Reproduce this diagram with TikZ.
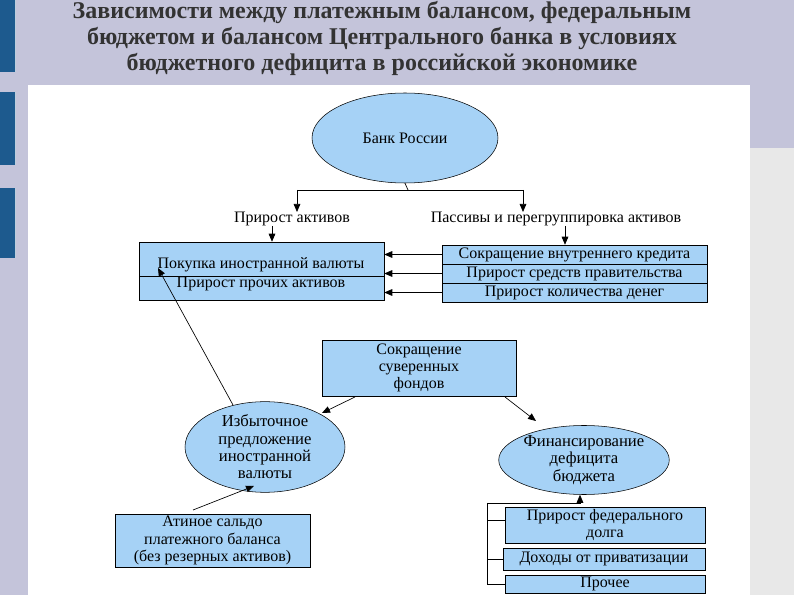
\documentclass[tikz,border=0pt]{standalone}
\usepackage{fontspec}
\setmainfont{Liberation Serif}
\usetikzlibrary{shapes.geometric,arrows.meta}
\definecolor{bg}{HTML}{C4C4DA}
\definecolor{bl}{HTML}{A6D2F6}
\definecolor{bar}{HTML}{1D5A8E}
\begin{document}
\begin{tikzpicture}[x=0.75pt,y=-0.75pt,
  box/.style={draw=black,fill=bl,inner sep=0pt,align=center,font=\fontsize{12}{13}\selectfont},
  ell/.style={ellipse,draw=black,fill=bl,inner sep=0pt,align=center,font=\fontsize{12}{13}\selectfont},
  lab/.style={inner sep=0pt,font=\fontsize{12}{13}\selectfont},
  arr/.style={-{Triangle[length=6pt,width=5pt]},line width=0.5pt},
  ln/.style={line width=0.5pt}]
\useasboundingbox (0,0) rectangle (794,595);
\fill[bg] (0,0) rectangle (794,595);
\fill[gray!18] (750,148) rectangle (794,595);
\fill[white] (28,85) rectangle (750,595);
\foreach \a/\b in {0/72,92/165,188/258}{\fill[bar] (0,\a) rectangle (15,\b); \draw[white!70!bar] (15,\a) -- (15,\b);}
\node[font=\bfseries\fontsize{18}{19.5}\selectfont,text=black!80,align=center] (title) at (382,38)
 {Зависимости между платежным балансом, федеральным\\бюджетом и балансом Центрального банка в условиях\\бюджетного дефицита в российской экономике};
% top
\node[ell,minimum width={186*0.75pt},minimum height={90*0.75pt}] (bank) at (405,138) {Банк России};
\coordinate (j) at (408,190);
\coordinate (jl) at (297,190);
\coordinate (jr) at (523,190);
\node[lab] (la) at (292,219) {Прирост активов};
\node[lab] (lp) at (556,219) {Пассивы и перегруппировка активов};
\draw[ln] (bank.south) -- (j);
\draw[ln] (jl) -- (jr);
\draw[arr] (jl) -- (297,212);
\draw[arr] (jr) -- (523,212);
\node[box,minimum width={245*0.75pt},minimum height={58*0.75pt}] (L) at (261.5,271) {};
\draw[ln] (139,276) -- (384,276);
\node[lab] (l1) at (261,265) {Покупка иностранной валюты};
\node[lab] (l2) at (261,284) {Прирост прочих активов};
\node[box,minimum width={265*0.75pt},minimum height={19*0.75pt}] (r1) at (574.5,254.5) {Сокращение внутреннего кредита};
\node[box,minimum width={265*0.75pt},minimum height={19*0.75pt}] (r2) at (574.5,273.5) {Прирост средств правительства};
\node[box,minimum width={265*0.75pt},minimum height={19*0.75pt}] (r3) at (574.5,292.5) {Прирост количества денег};
\draw[arr] (272,226) -- (L.north -| 272,0);
\draw[arr] (565,226) -- (r1.north -| 565,0);
\draw[arr] (r1.west) -- (L.east |- r1.west);
\draw[arr] (r2.west) -- (L.east |- r2.west);
\draw[arr] (r3.west) -- (L.east |- r3.west);
% middle
\node[box,minimum width={194*0.75pt},minimum height={56*0.75pt}] (F) at (419,368) {Сокращение\\суверенных\\фондов};
\node[ell,minimum width={160*0.75pt},minimum height={78*0.75pt},font=\fontsize{12.5}{13}\selectfont] (E1) at (265,447) {Избыточное\\предложение\\иностранной\\валюты};
\node[ell,minimum width={160*0.75pt},minimum height={66*0.75pt},font=\fontsize{12.5}{13}\selectfont] (E2) at (584,460) {Финансирование\\дефицита\\бюджета};
\draw[arr] (355,397) -- (322,413);
\draw[arr] (505,397) -- (536,421);
\draw[arr] (233,405) -- (158,268);
\node[box,minimum width={195*0.75pt},minimum height={53*0.75pt}] (S) at (212.5,540.5) {Атиное сальдо\\платежного баланса\\(без резерных активов)};
\draw[arr] (193,510) -- (254,486);
% bottom right
\node[box,minimum width={200*0.75pt},minimum height={36*0.75pt}] (b1) at (605,525) {Прирост федерального\\долга};
\node[box,minimum width={202*0.75pt},minimum height={22*0.75pt}] (b2) at (604,559) {Доходы от приватизации};
\node[box,minimum width={200*0.75pt},minimum height={18*0.75pt}] (b3) at (605,584) {Прочее};
\draw[ln] (487,503) -- (487,584);
\draw[ln] (487,520) -- (b1.west |- 0,520);
\draw[ln] (487,559) -- (b2.west);
\draw[ln] (487,584) -- (b3.west);
\draw[ln] (487,503) -- (580,503);
\draw[arr] (580,503) -- (E2.south -| 580,0);
\end{tikzpicture}
\end{document}
